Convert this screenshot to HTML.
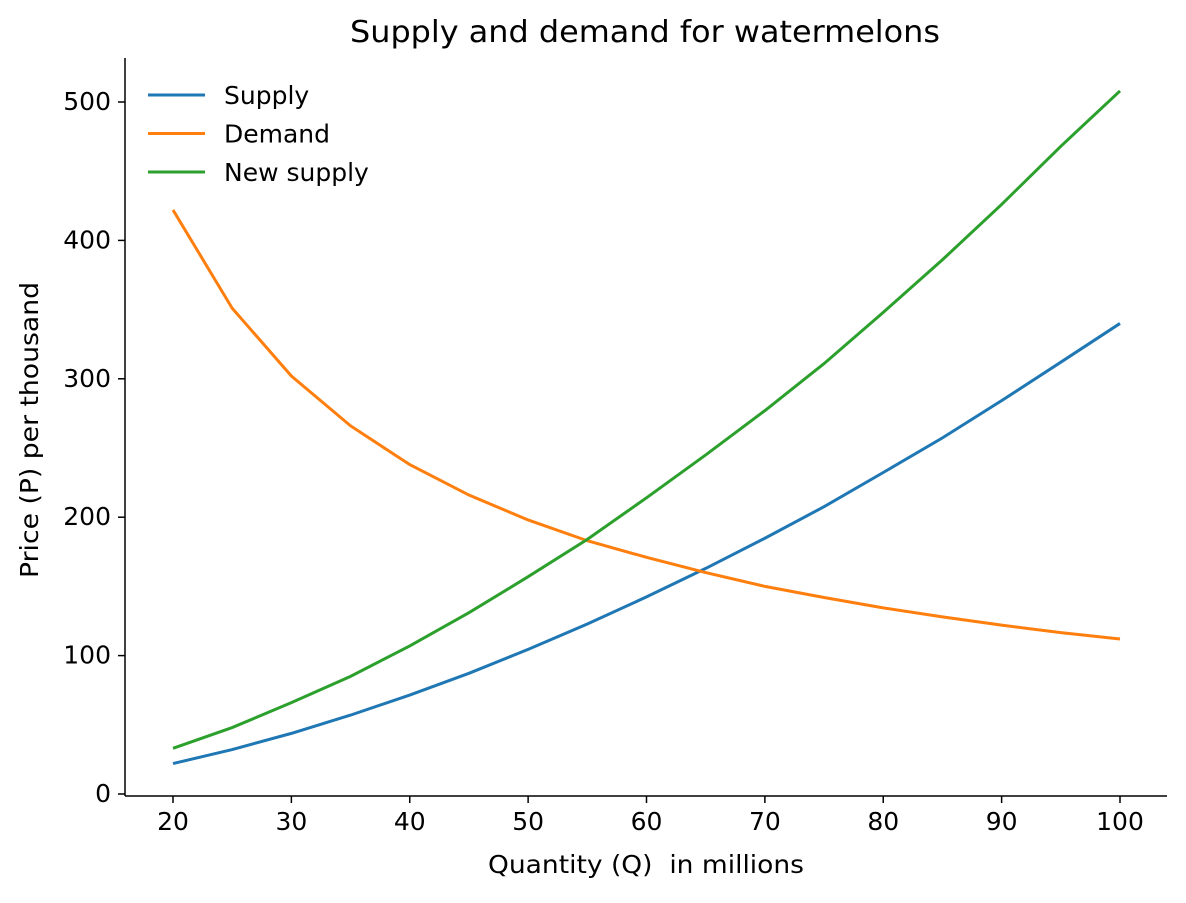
<!DOCTYPE html>
<html><head><meta charset="utf-8"><style>
body{margin:0;background:#fff}
svg text{font-family:"DejaVu Sans","Liberation Sans",sans-serif;fill:#000}
</style></head><body>
<svg id="chart" width="1186" height="898" xmlns="http://www.w3.org/2000/svg">
<rect width="1186" height="898" fill="#fff"/>
<text x="645" y="42" font-size="30" text-anchor="middle" textLength="590" lengthAdjust="spacingAndGlyphs">Supply and demand for watermelons</text>
<text x="646" y="873" font-size="25" text-anchor="middle" textLength="316" lengthAdjust="spacingAndGlyphs" xml:space="preserve">Quantity (Q)  in millions</text>
<text transform="translate(38,430) rotate(-90)" font-size="25" text-anchor="middle" textLength="296" lengthAdjust="spacingAndGlyphs">Price (P) per thousand</text>
<g id="axes"></g>
<g id="series"></g>
<g id="legend"></g>
</svg>
<script>
const quantities=[20,25,30,35,40,45,50,55,60,65,70,75,80,85,90,95,100];
const supply=[22,32.1,43.8,57,71.5,87.2,104.5,122.8,142.4,163,184.8,207.6,232.3,257.3,284.2,312,340];
const demand=[422,351,302,266,238,216,198,183,171,160,150,142,134.5,128,122,116.6,112];
const newSupply=[33,48,66,85,107,131,157,184,214,245,277,311,348,386,426,468,508];
const xTicks=[20,30,40,50,60,70,80,90,100];
const yTicks=[0,100,200,300,400,500];
const seriesNames=["Supply","Demand","New supply"];
const colors=["#1f77b4","#ff7f0e","#2ca02c"];
const NS="http://www.w3.org/2000/svg";
const X=v=>173+(v-20)*(1120-173)/80;
const Y=v=>794-v*(794-102)/500;
function mk(t,a,p){const e=document.createElementNS(NS,t);for(const k in a)e.setAttribute(k,a[k]);p.appendChild(e);return e;}
const axes=document.getElementById('axes');
const ls=mk('line',{x1:125,y1:58,x2:125,y2:796,stroke:'#000','stroke-width':1.5},axes);


const bs=mk('line',{x1:125,y1:796,x2:1167,y2:796,stroke:'#000','stroke-width':1.5},axes);


xTicks.forEach(v=>{
  mk('line',{x1:X(v),y1:796,x2:X(v),y2:803,stroke:'#000','stroke-width':1.5},axes);
  const t=mk('text',{x:X(v),y:830,'font-size':25,'text-anchor':'middle'},axes);t.textContent=v;
  
  
});
yTicks.forEach(v=>{
  mk('line',{x1:118,y1:Y(v),x2:125,y2:Y(v),stroke:'#000','stroke-width':1.5},axes);
  const t=mk('text',{x:111,y:Y(v)+8,'font-size':25,'text-anchor':'end'},axes);t.textContent=v;
  
  
});
const ser=document.getElementById('series');
[supply,demand,newSupply].forEach((arr,i)=>{
  const p=mk('polyline',{points:arr.map((v,j)=>X(quantities[j])+','+Y(v)).join(' '),fill:'none',stroke:colors[i],'stroke-width':3},ser);
  
  
});
const lg=document.getElementById('legend');
seriesNames.forEach((n,i)=>{
  const y=95+i*38.5;
  mk('line',{x1:148,y1:y,x2:205,y2:y,stroke:colors[i],'stroke-width':3},lg);
  const t=mk('text',{x:224,y:y+9,'font-size':25},lg);t.textContent=n;
  
  
});
</script>
</body></html>
